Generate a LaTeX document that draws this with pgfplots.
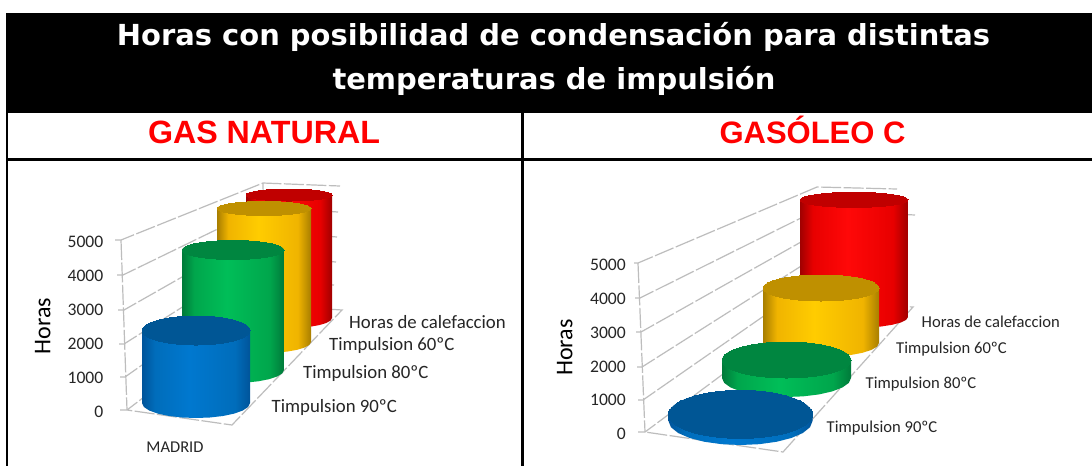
\documentclass[border=0pt]{standalone}
\usepackage{fontspec}
\usepackage{pgfplots}
\usepackage{pgfplotstable}
\pgfplotsset{compat=1.18}
\setmainfont{Carlito}
\newfontfamily\hdr{DejaVu Sans}
\newfontfamily\lib{Liberation Sans}

\definecolor{b1}{HTML}{00549A}\definecolor{b2}{HTML}{006DBB}\definecolor{b3}{HTML}{0078CF}\definecolor{bt}{HTML}{005695}
\definecolor{g1}{HTML}{007A3A}\definecolor{g2}{HTML}{00A64C}\definecolor{g3}{HTML}{00BE58}\definecolor{gt}{HTML}{008640}
\definecolor{y1}{HTML}{A87E00}\definecolor{y2}{HTML}{F0B400}\definecolor{y3}{HTML}{FFCC00}\definecolor{yt}{HTML}{BF9000}
\definecolor{r1}{HTML}{A00000}\definecolor{r2}{HTML}{E80000}\definecolor{r3}{HTML}{FF0808}\definecolor{rt}{HTML}{C00000}
\definecolor{gridc}{HTML}{BDBDBD}

\pgfdeclarehorizontalshading{blueS}{100bp}{color(0bp)=(b1);color(25bp)=(b1);color(31bp)=(b2);color(47bp)=(b3);color(68bp)=(b2);color(75bp)=(b1);color(100bp)=(b1)}
\pgfdeclarehorizontalshading{greenS}{100bp}{color(0bp)=(g1);color(25bp)=(g1);color(31bp)=(g2);color(47bp)=(g3);color(68bp)=(g2);color(75bp)=(g1);color(100bp)=(g1)}
\pgfdeclarehorizontalshading{yellowS}{100bp}{color(0bp)=(y1);color(25bp)=(y1);color(31bp)=(y2);color(47bp)=(y3);color(68bp)=(y2);color(75bp)=(y1);color(100bp)=(y1)}
\pgfdeclarehorizontalshading{redS}{100bp}{color(0bp)=(r1);color(25bp)=(r1);color(31bp)=(r2);color(47bp)=(r3);color(68bp)=(r2);color(75bp)=(r1);color(100bp)=(r1)}

% outline of a cylinder body, in unit terms: c across, s along the lower arc, t = 1 at the top
\pgfplotstableread{
c s t
-1 0 1
-1 0 0
-0.966 0.259 0
-0.866 0.5 0
-0.707 0.707 0
-0.5 0.866 0
-0.259 0.966 0
0 1 0
0.259 0.966 0
0.5 0.866 0
0.707 0.707 0
0.866 0.5 0
0.966 0.259 0
1 0 0
1 0 1
}\outline
\pgfplotstableread{
c s
0 0
}\onept

% #1 centre x, #2 half width, #3 base y (px), #4 base half height, #5 px per hour, #6 value (hours), #7 top half height, #8 shading, #9 top colour
\newcommand{\cyl}[9]{%
  \addplot[draw=none, shading=#8, mark=none, forget plot] table[x expr={#1+\thisrow{c}*#2}, y expr={(\yz-(#3+\thisrow{s}*#4-\thisrow{t}*#5*#6))/\ys}] {\outline};
  \addplot[only marks, mark=*, mark size=#2, mark options={yscale={#7/#2}, fill=#9, draw=#9, line width=0pt}, forget plot] table[x expr={#1}, y expr={(\yz-(#3-#5*#6))/\ys}] {\onept};
}
\newcommand{\wl}[1]{\addplot[wall, forget plot] table[row sep=\\, x=x, y expr={(\yz-\thisrow{py})/\ys}] {x py\\ #1};}

\pgfplotsset{
  wall/.style={color=gridc, line width=1.2pt, dash pattern=on 20pt off 2.5pt, mark=none},
  panel/.style={
    x=1pt, y=\ys pt, clip=false, scale only axis,
    axis x line=none, axis y line*=left,
    y axis line style={draw=none, -}, major tick length=0pt, tick style={draw=none},
    ymin={(\yz-466)/\ys}, ymax={(\yz-162)/\ys},
    ytick={0,1000,2000,3000,4000,5000}, scaled y ticks=false,
    /pgf/number format/assume math mode=true,
    /pgf/number format/set thousands separator={},
    yticklabel style={font=\fontsize{17.6}{20}\selectfont, text=black!85, inner sep=0pt, anchor=east, yshift=-2pt},
    ylabel={Horas}, ylabel style={font=\fontsize{24}{28}\selectfont, anchor=center, inner sep=0pt},
  },
}

\begin{document}
\begin{tikzpicture}[x=1pt,y=-1pt]
\path[use as bounding box, fill=white] (0,0) rectangle (1092,466);
% frame
\fill[black] (5.5,13) rectangle (1092,113);
\fill[black] (5.5,113) rectangle (7.8,466);
\fill[black] (7,158) rectangle (1092,161);
\fill[black] (521,113) rectangle (523.5,466);
\node[anchor=base, text=white, inner sep=0pt] at (553.5,45) {\hdr\bfseries\fontsize{28.96}{30}\selectfont Horas con posibilidad de condensación para distintas};
\node[anchor=base, text=white, inner sep=0pt] at (554,89) {\hdr\bfseries\fontsize{28.96}{30}\selectfont temperaturas de impulsión};
\node[anchor=base, text=red, inner sep=0pt] at (264,143) {\lib\bfseries\fontsize{32.2}{34}\selectfont GAS NATURAL};
\node[anchor=base, text=red, inner sep=0pt] at (812.5,143) {\lib\bfseries\fontsize{31}{34}\selectfont GASÓLEO C};

% ---------- GAS NATURAL ----------
\def\yz{410}\def\ys{0.034}
\begin{axis}[panel, at={(124pt,-466pt)}, anchor=south west, xmin=124, xmax=520,
  yticklabel style={xshift=-20.5pt},
  ylabel style={at={(axis description cs:-0.205,0.46)}, rotate=0}]
\wl{115 240\\ 121 240\\ 263 183\\ 340 186\\}
\wl{117 275\\ 123 275\\ 263 207\\ 338 212\\}
\wl{118 310\\ 124 310\\ 263 231\\ 337 237\\}
\wl{119 344\\ 124 344\\ 263 256\\ 336 262\\}
\wl{120 377\\ 125 377\\ 263 280\\ 334 285\\}
\wl{120 410\\ 127 410\\ 265 305\\ 342 310\\ 232 425\\ 127 410\\}
\wl{121 240\\ 127 410\\}
\wl{263 183\\ 265 305\\}
\cyl{289}{43}{318}{10}{0.0251}{4900}{6}{redS}{rt}
\cyl{264}{47}{342}{11}{0.02753}{4850}{7}{yellowS}{yt}
\cyl{233}{51}{370}{13}{0.0300}{4000}{9.5}{greenS}{gt}
\cyl{196}{54}{403}{15}{0.03295}{2200}{14.5}{blueS}{bt}
\end{axis}
\node[anchor=base, inner sep=0pt, text=black!85] at (175,452.5) {\fontsize{16.5}{20}\selectfont MADRID};
\begin{scope}[every node/.style={anchor=west, inner sep=0pt, text=black!85, font=\fontsize{18.8}{20}\selectfont}]
\node at (349,322) {Horas de calefaccion};
\node at (329,345.5) {Timpulsion 60ºC};
\node at (303,373.5) {Timpulsion 80ºC};
\node at (271.5,407.5) {Timpulsion 90ºC};
\end{scope}

% ---------- GASÓLEO C ----------
\def\yz{432}\def\ys{0.0338}
\begin{axis}[panel, at={(641pt,-466pt)}, anchor=south west, xmin=641, xmax=1090,
  yticklabel style={xshift=-15pt},
  ylabel style={at={(axis description cs:-0.17,0.39)}, rotate=0}]
\wl{634 263\\ 638 263\\ 817 187\\ 897 189\\}
\wl{635 298\\ 640 298\\ 817 210\\ 915 215\\}
\wl{636 332\\ 641 332\\ 817 233\\ 905 237\\}
\wl{637 367\\ 642 367\\ 817 256\\ 905 260\\}
\wl{638 400\\ 643 400\\ 817 279\\ 905 284\\}
\wl{638 432\\ 645 432\\ 820 302\\ 913 307\\ 783 452\\ 645 432\\}
\wl{638 263\\ 645 432\\}
\cyl{854}{54}{317}{11}{0.0239}{4900}{7.5}{redS}{rt}
\cyl{821}{58}{343}{14}{0.0275}{2000}{13}{yellowS}{yt}
\cyl{786.5}{64.5}{378}{19}{0.0300}{600}{18}{greenS}{gt}
\cyl{740.5}{72}{421}{24}{0.0330}{200}{24}{blueS}{bt}
\end{axis}
\begin{scope}[every node/.style={anchor=west, inner sep=0pt, text=black!85, font=\fontsize{16.6}{20}\selectfont}]
\node at (921.5,322) {Horas de calefaccion};
\node at (896,349.5) {Timpulsion 60ºC};
\node at (865.5,384.5) {Timpulsion 80ºC};
\node at (826.5,428.5) {Timpulsion 90ºC};
\end{scope}
\end{tikzpicture}
\end{document}
